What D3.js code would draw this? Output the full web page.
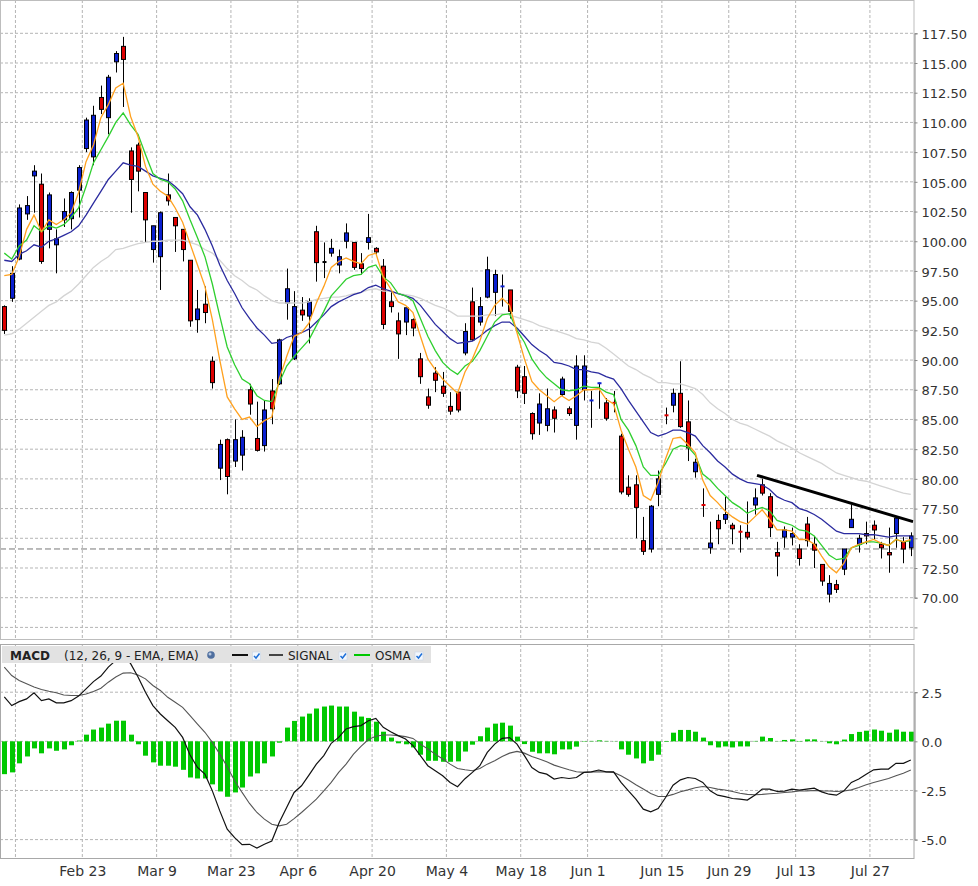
<!DOCTYPE html>
<html>
<head>
<meta charset="utf-8">
<script src="https://d3js.org/d3.v7.min.js"></script>
<style>
  body { margin: 0; background: #fff; }
  svg text { font-family: "DejaVu Sans", Verdana, sans-serif; }
</style>
</head>
<body>
<div class="container"></div>
<script>
// daily candles (index 0 = first visible day)
const opens = [
  94.5, 95.2, 98.5, 102.3, 105.5, 104.8, 101.0, 99.7, 101.8, 101.9,
  104.3, 107.8, 107.1, 112.1, 110.4, 115.1, 116.4, 107.6, 108.1, 104.1,
  99.3, 98.7, 103.9, 102.0, 101.0, 98.4, 93.4, 94.7, 89.9, 80.9,
  83.3, 81.5, 82.0, 87.5, 83.4, 82.8, 87.4, 88.0, 94.8, 90.1,
  94.2, 93.7, 100.8, 98.25, 99.0, 98.0, 100.0, 99.9, 98.1, 99.9,
  99.4, 97.9, 94.9, 93.3, 93.2, 93.4, 90.1, 86.9, 88.9, 87.8,
  86.1, 87.3, 90.6, 94.9, 93.2, 95.3, 95.7, 96.1, 95.9, 89.4,
  88.6, 85.5, 84.7, 84.5, 85.8, 87.1, 85.9, 84.5, 87.5, 86.5,
  87.95, 86.4, 86.4, 83.6, 79.3, 79.5, 74.8, 74.1, 78.7, 85.35,
  86.2, 87.2, 84.8, 80.6, 77.8, 74.2, 76.5, 76.6, 76.1, 75.55,
  75.5, 77.8, 79.5, 78.5, 73.8, 75.1, 75.1, 74.1, 76.2, 74.5,
  72.8, 70.3, 71.1, 72.4, 75.9, 74.5, 75.4, 76.1, 74.5, 73.8,
  75.4, 74.7, 74.2
];
const highs = [
  94.6, 97.9, 103.1, 103.8, 106.4, 105.7, 104.1, 101.0, 103.6, 104.2,
  106.4, 110.4, 111.4, 113.1, 114.0, 116.0, 117.2, 107.9, 108.3, 104.1,
  101.3, 102.5, 105.7, 102.0, 101.0, 98.4, 95.9, 96.2, 90.3, 83.3,
  83.4, 85.0, 84.1, 88.0, 86.5, 86.6, 88.4, 91.8, 97.7, 95.8,
  95.3, 95.2, 101.3, 99.9, 100.2, 99.3, 101.5, 99.9, 99.0, 102.3,
  99.5, 98.5, 95.7, 94.0, 94.4, 93.5, 90.6, 87.6, 89.4, 89.0,
  87.3, 87.3, 93.1, 96.1, 95.3, 98.7, 97.6, 97.2, 95.9, 89.6,
  89.5, 85.6, 87.2, 87.6, 86.1, 88.6, 86.1, 90.4, 90.4, 87.4,
  88.1, 86.8, 87.4, 83.8, 80.3, 80.3, 76.8, 77.8, 80.7, 86.0,
  87.6, 89.9, 86.6, 81.7, 79.2, 76.4, 77.0, 78.5, 76.3, 76.1,
  78.1, 79.2, 80.0, 78.8, 74.7, 76.0, 75.9, 74.5, 76.8, 75.2,
  72.8, 71.9, 71.5, 74.1, 77.8, 75.3, 76.4, 76.5, 74.7, 75.9,
  76.8, 75.1, 75.5
];
const lows = [
  92.2, 94.9, 98.4, 101.8, 102.4, 98.1, 99.4, 97.3, 101.2, 101.0,
  102.0, 107.5, 106.4, 110.7, 109.0, 114.2, 111.3, 102.4, 104.2, 99.9,
  98.2, 95.9, 103.0, 99.1, 98.3, 92.8, 92.3, 93.1, 87.6, 79.9,
  78.7, 81.0, 80.7, 85.4, 82.3, 82.3, 84.6, 87.9, 93.4, 90.0,
  93.3, 91.4, 96.6, 96.9, 98.7, 97.3, 99.4, 97.6, 97.2, 99.3,
  98.9, 92.6, 94.0, 90.1, 92.1, 92.0, 88.0, 85.9, 87.3, 86.9,
  85.4, 85.6, 90.4, 91.6, 92.9, 95.2, 93.7, 94.5, 93.5, 86.8,
  86.3, 83.3, 83.7, 84.0, 83.9, 87.0, 85.3, 83.3, 86.6, 84.3,
  85.9, 84.9, 85.6, 78.7, 78.5, 75.0, 73.6, 73.8, 77.7, 84.6,
  85.6, 84.3, 81.5, 80.1, 76.8, 73.7, 74.5, 76.2, 74.5, 73.8,
  74.9, 77.0, 78.6, 75.1, 71.8, 74.2, 74.4, 72.7, 74.3, 72.5,
  71.0, 69.6, 70.4, 71.9, 75.9, 73.8, 74.5, 74.9, 73.3, 72.1,
  74.2, 72.9, 73.5
];
const closes = [
  92.5, 97.3, 102.8, 103.0, 105.9, 98.3, 103.9, 100.2, 102.5, 104.1,
  106.2, 110.2, 110.6, 111.1, 113.8, 115.8, 115.3, 105.2, 105.9, 101.8,
  101.3, 102.4, 103.4, 101.3, 99.3, 93.3, 94.3, 94.0, 88.1, 82.9,
  80.2, 83.3, 83.5, 86.3, 82.4, 85.8, 85.9, 91.7, 96.0, 94.5,
  93.8, 94.9, 98.2, 98.25, 99.4, 98.7, 100.7, 97.8, 97.7, 100.3,
  99.1, 93.0, 94.5, 92.2, 94.4, 92.7, 88.6, 86.2, 88.3, 87.2,
  85.7, 85.8, 92.4, 91.7, 94.5, 97.6, 97.2, 96.2, 94.1, 87.4,
  87.2, 83.8, 86.3, 85.9, 85.1, 88.4, 85.5, 89.5, 89.5, 86.6,
  88.05, 85.1, 86.3, 78.9, 78.7, 77.6, 73.9, 77.7, 80.0, 85.25,
  87.2, 84.4, 82.6, 81.4, 77.7, 74.6, 75.8, 77.0, 75.8, 75.45,
  75.1, 78.4, 78.8, 75.9, 73.5, 75.7, 75.4, 73.3, 74.8, 74.0,
  71.4, 71.2, 70.7, 74.1, 76.6, 75.0, 75.2, 75.7, 74.2, 73.6,
  76.7, 74.1, 75.2
];

// moving averages on the price pane
const emaFast = [ // orange
  97.1, 97.2, 98.7, 101.0, 102.2, 100.8, 101.8, 101.4, 101.8, 102.4,
  104.1, 106.7, 108.1, 110.4, 111.5, 112.9, 113.3, 110.5, 108.8, 106.3,
  104.8, 104.2, 103.8, 102.8, 101.6, 99.8, 98.0, 96.2, 93.4, 90.0,
  86.9, 85.9, 85.0, 85.2, 84.4, 84.9, 85.2, 88.4, 90.3, 92.0,
  92.3, 93.1, 94.8, 96.2, 97.8, 98.3, 98.6, 98.3, 98.1, 98.8,
  99.0, 97.0, 96.0, 94.9, 94.6, 94.0, 92.0, 90.1, 89.2, 88.4,
  87.8, 87.2, 89.0, 90.1, 91.6, 93.5, 94.6, 95.2, 94.6, 92.3,
  90.1, 88.2, 87.5, 87.0, 86.5, 87.0, 86.6, 87.0, 87.5, 87.5,
  87.6, 86.7, 86.3, 84.1, 82.5, 81.0, 78.6, 78.2, 79.7, 81.7,
  83.4, 83.5, 82.9, 82.2, 79.9, 78.6, 78.0, 77.3, 76.8, 76.4,
  76.2, 76.8, 77.4, 76.6, 75.7, 75.7, 75.6, 74.9, 74.9, 74.5,
  73.5, 72.6, 72.1, 72.9, 74.2, 74.5, 74.7, 74.9, 74.6, 74.4,
  74.9, 74.7, 74.9
];
const emaMid = [ // green
  99.0, 98.5, 99.6, 100.1, 101.3, 100.8, 101.3, 101.1, 101.4, 102.0,
  102.8, 104.6, 106.6, 107.7, 108.8, 110.0, 110.8, 109.8, 109.0, 107.3,
  105.7, 105.2, 105.0, 104.4, 103.4, 101.8, 100.3, 98.7, 96.4, 93.7,
  91.1, 89.6, 88.4, 88.0, 87.0, 86.6, 86.5, 88.1, 89.5, 90.3,
  91.0, 91.7, 92.9, 94.1, 95.4, 96.1, 96.8, 97.1, 97.2, 97.8,
  98.0, 97.0, 96.5, 95.6, 95.4, 95.0, 93.5, 92.0, 90.8, 89.8,
  89.2, 88.8, 89.5, 89.9, 90.8, 92.0, 93.2, 93.8, 93.9, 92.5,
  91.5, 90.1, 89.2, 88.5, 88.0, 87.5, 87.4, 87.5, 87.8, 87.7,
  87.7, 87.3, 87.1, 85.0, 84.1, 82.8, 81.0, 80.3, 80.3, 81.3,
  82.5, 82.8, 82.7, 82.0, 80.4, 79.9, 79.2, 78.6, 78.0, 77.6,
  77.1, 77.4, 77.6, 77.3, 76.5, 76.3, 76.1, 75.7, 75.6, 75.2,
  74.4, 73.6, 73.2, 73.3, 74.2, 74.4, 74.7, 74.7, 74.6, 74.4,
  74.9, 74.7, 74.8
];
const emaSlow = [ // navy
  98.4, 98.3, 98.9, 99.2, 99.7, 99.5, 100.0, 100.2, 100.5, 100.8,
  101.3, 102.2, 103.2, 104.2, 105.2, 105.9, 106.6, 106.4, 106.3, 105.9,
  105.5, 105.3, 105.1, 104.6, 104.0, 102.9, 102.2, 101.0, 99.6, 98.0,
  96.7, 95.6, 94.4, 93.5, 92.7, 92.1, 91.4, 91.5, 91.9, 92.1,
  92.3, 92.6, 93.2, 93.8, 94.5, 94.9, 95.2, 95.5, 95.7, 96.1,
  96.3, 96.0, 95.8, 95.6, 95.4, 95.2, 94.6, 93.8, 93.0, 92.4,
  91.8, 91.4, 91.5, 91.6, 92.0, 92.5, 92.9, 93.2, 93.2, 92.7,
  92.0, 91.3, 90.8, 90.4, 89.8, 89.7, 89.5, 89.2, 89.2, 89.0,
  88.9, 88.6, 88.4, 87.6, 86.6, 85.7, 84.8, 83.9, 83.6, 83.8,
  84.1, 84.1, 83.9, 83.6, 82.8, 82.2, 81.5, 81.0, 80.4, 80.0,
  79.7, 79.6, 79.5, 79.1, 78.5, 78.2, 78.0, 77.5, 77.3, 77.0,
  76.6, 76.1, 75.6, 75.4, 75.4, 75.4, 75.3, 75.3, 75.2, 75.1,
  75.2, 75.2, 75.2
];
const smaLong = [ // light grey
  92.1, 92.2, 92.6, 93.1, 93.6, 94.1, 94.6, 94.9, 95.4, 95.8,
  96.4, 97.1, 97.8, 98.3, 98.7, 99.3, 99.4, 99.6, 99.8, 99.9,
  100.0, 100.0, 100.1, 100.1, 100.1, 99.9, 99.7, 99.3, 99.0, 98.4,
  97.7, 97.1, 96.7, 96.2, 95.9, 95.4, 95.0, 94.8, 94.8, 94.8,
  94.8, 94.9, 95.1, 95.2, 95.3, 95.3, 95.4, 95.6, 95.7, 95.9,
  96.0, 95.8, 95.8, 95.6, 95.5, 95.4, 95.2, 94.9, 94.6, 94.4,
  94.1, 93.7, 93.7, 93.7, 93.7, 93.8, 93.8, 93.9, 93.8, 93.6,
  93.4, 93.2, 92.9, 92.7, 92.5, 92.3, 92.1, 91.8, 91.7, 91.5,
  91.4, 91.0, 90.5, 90.0, 89.5, 89.2, 88.8, 88.5, 88.1, 88.1,
  88.0, 88.0, 87.8, 87.6, 87.1, 86.4, 85.9, 85.5, 85.0, 84.7,
  84.5, 84.2, 83.9, 83.6, 83.2, 82.9, 82.6, 82.2, 81.9, 81.6,
  81.3, 80.9, 80.5, 80.3, 80.1, 79.9, 79.8, 79.6, 79.4, 79.2,
  79.0, 78.8, 78.7
];

// MACD pane
const macdLine = [
  2.26, 1.82, 2.02, 2.16, 2.47, 2.07, 2.16, 1.96, 1.96, 2.07,
  2.30, 2.67, 3.04, 3.32, 3.78, 4.12, 4.40, 3.95, 3.27, 2.50,
  1.82, 1.39, 1.05, 0.71, 0.20, -0.70, -1.33, -1.67, -2.52, -3.54,
  -4.47, -4.90, -5.26, -5.24, -5.43, -5.24, -5.07, -4.13, -3.37, -2.60,
  -2.26, -1.72, -1.16, -0.73, -0.10, 0.20, 0.63, 0.75, 0.80, 1.05,
  1.17, 0.71, 0.49, 0.29, 0.12, -0.22, -0.73, -1.24, -1.50, -1.75,
  -2.09, -2.31, -1.90, -1.58, -1.24, -0.56, -0.14, 0.15, 0.19, -0.14,
  -0.73, -1.33, -1.58, -1.67, -1.92, -1.84, -1.89, -1.84, -1.58, -1.55,
  -1.46, -1.55, -1.55, -2.09, -2.52, -2.94, -3.45, -3.59, -3.42, -2.86,
  -2.23, -1.96, -1.84, -1.89, -2.09, -2.52, -2.74, -2.81, -2.91, -2.94,
  -2.99, -2.74, -2.43, -2.43, -2.55, -2.53, -2.43, -2.48, -2.43, -2.38,
  -2.57, -2.69, -2.74, -2.52, -2.09, -1.92, -1.67, -1.45, -1.41, -1.41,
  -1.12, -1.12, -0.95
];
const signalLine = [
  3.78, 3.35, 3.10, 2.93, 2.76, 2.64, 2.55, 2.47, 2.36, 2.33,
  2.33, 2.41, 2.53, 2.70, 3.01, 3.27, 3.47, 3.49, 3.38, 3.18,
  2.84, 2.59, 2.24, 1.99, 1.73, 1.31, 0.88, 0.46, -0.05, -0.65,
  -1.29, -2.01, -2.60, -3.16, -3.62, -3.96, -4.22, -4.30, -4.22, -3.93,
  -3.62, -3.28, -2.94, -2.52, -2.09, -1.58, -1.16, -0.65, -0.26, 0.09,
  0.26, 0.32, 0.32, 0.29, 0.24, 0.15, -0.14, -0.39, -0.65, -0.90,
  -1.16, -1.38, -1.45, -1.50, -1.38, -1.16, -0.99, -0.77, -0.60, -0.51,
  -0.60, -0.77, -0.90, -1.04, -1.21, -1.33, -1.45, -1.55, -1.58, -1.56,
  -1.55, -1.56, -1.58, -1.75, -1.97, -2.21, -2.43, -2.65, -2.81, -2.81,
  -2.70, -2.57, -2.47, -2.36, -2.30, -2.35, -2.43, -2.48, -2.55, -2.64,
  -2.70, -2.72, -2.70, -2.67, -2.64, -2.60, -2.57, -2.53, -2.52, -2.50,
  -2.52, -2.53, -2.55, -2.53, -2.47, -2.35, -2.21, -2.09, -1.99, -1.89,
  -1.75, -1.62, -1.46
];
const osma = [
  -1.67, -1.58, -1.12, -0.77, -0.36, -0.61, -0.36, -0.48, -0.41, -0.20,
  0.04, 0.34, 0.60, 0.70, 0.90, 1.05, 1.05, 0.34, -0.15, -0.73,
  -1.07, -1.24, -1.24, -1.29, -1.45, -1.84, -1.89, -1.89, -2.19, -2.55,
  -2.82, -2.60, -2.35, -1.79, -1.63, -1.12, -0.77, -0.07, 0.70, 1.04,
  1.26, 1.41, 1.67, 1.77, 1.82, 1.77, 1.77, 1.51, 1.26, 1.19,
  1.00, 0.49, 0.19, -0.10, -0.15, -0.31, -0.68, -0.99, -0.99, -1.04,
  -1.04, -1.02, -0.52, -0.17, 0.26, 0.70, 0.90, 0.95, 0.80, 0.24,
  -0.14, -0.53, -0.61, -0.61, -0.66, -0.41, -0.41, -0.27, -0.02, 0.02,
  0.05, 0.02, 0.01, -0.41, -0.68, -0.87, -1.12, -0.99, -0.68, -0.03,
  0.44, 0.58, 0.58, 0.49, 0.19, -0.20, -0.31, -0.26, -0.31, -0.26,
  -0.26, 0.02, 0.24, 0.17, 0.01, 0.07, 0.10, -0.02, 0.10, 0.10,
  0.01, -0.10, -0.15, 0.09, 0.37, 0.48, 0.54, 0.60, 0.54, 0.44,
  0.60, 0.49, 0.49
];

// axis ticks
const dateTicks = [2, 11, 21, 31, 40, 50, 60, 70, 79, 89, 98, 107, 117];
const dateLabels = ['', 'Feb 23', 'Mar 9', 'Mar 23', 'Apr 6', 'Apr 20', 'May 4',
  'May 18', 'Jun 1', 'Jun 15', 'Jun 29', 'Jul 13', 'Jul 27'];
const priceTicks = [67.5, 70, 72.5, 75, 77.5, 80, 82.5, 85, 87.5, 90, 92.5, 95, 97.5,
  100, 102.5, 105, 107.5, 110, 112.5, 115, 117.5];
const macdTicks = [-5, -2.5, 0, 2.5];

// hand drawn resistance line (day index, price) and last price marker
const trendIdx = [101.3, 122.3];
const trendVal = [80.3, 76.4];
const lastPrice = 74.1;

// defining dimensions
const w = 978;
const h = 886;
const plotRight = 914;
const mainPane = { top: 0, bottom: 639 };
const macdPane = { top: 644, bottom: 858 };

const svg = d3.select('.container').append('svg')
  .attr('width', w)
  .attr('height', h);

// scales
const xScale = d3.scaleLinear().domain([0, 122]).range([4.3, 910.8]);
const yScale = d3.scaleLinear().domain([70, 117.5]).range([597.7, 33.3]);
const mScale = d3.scaleLinear().domain([-5, 2.5]).range([839.6, 692.2]);
const gridX = dateTicks.map(t => xScale(t - 0.5));

// clip areas for both panes
const defs = svg.append('defs');
defs.append('clipPath').attr('id', 'clip-main').append('rect')
  .attr('x', 0).attr('y', mainPane.top)
  .attr('width', plotRight).attr('height', mainPane.bottom - mainPane.top);
defs.append('clipPath').attr('id', 'clip-macd').append('rect')
  .attr('x', 0).attr('y', macdPane.top)
  .attr('width', plotRight).attr('height', macdPane.bottom - macdPane.top);

const gridColor = '#b5b5b5';

// ---------- price pane ----------
const main = svg.append('g').attr('clip-path', 'url(#clip-main)');
main.selectAll('.hgrid').data(priceTicks).enter().append('line')
  .attr('x1', 0).attr('x2', plotRight)
  .attr('y1', d => yScale(d)).attr('y2', d => yScale(d))
  .attr('stroke', gridColor).attr('stroke-dasharray', '3,2');
main.selectAll('.vgrid').data(gridX).enter().append('line')
  .attr('x1', d => d).attr('x2', d => d)
  .attr('y1', mainPane.top).attr('y2', mainPane.bottom)
  .attr('stroke', gridColor).attr('stroke-dasharray', '3,2');

// last price dashed line
main.append('line')
  .attr('x1', 0).attr('x2', plotRight)
  .attr('y1', yScale(lastPrice)).attr('y2', yScale(lastPrice))
  .attr('stroke', '#777').attr('stroke-dasharray', '6,3');

// candles
const candles = main.selectAll('.candle').data(opens).enter().append('g');
candles.append('line')
  .attr('x1', (d, i) => Math.round(xScale(i)) + 0.5)
  .attr('x2', (d, i) => Math.round(xScale(i)) + 0.5)
  .attr('y1', (d, i) => yScale(highs[i]))
  .attr('y2', (d, i) => yScale(lows[i]))
  .attr('stroke', '#000').attr('stroke-width', 1);
candles.append('rect')
  .attr('x', (d, i) => Math.round(xScale(i)) - 1.5)
  .attr('y', (d, i) => {
    const top = yScale(Math.max(d, closes[i]));
    return Math.abs(d - closes[i]) < 0.15 ? top - 1 : top;
  })
  .attr('width', 4)
  .attr('height', (d, i) => Math.abs(d - closes[i]) < 0.15 ? 2 : yScale(Math.min(d, closes[i])) - yScale(Math.max(d, closes[i])))
  .attr('fill', (d, i) => closes[i] > d ? '#0a1fd0' : (closes[i] < d ? '#dd0000' : '#000'))
  .attr('stroke', (d, i) => Math.abs(d - closes[i]) < 0.15 ? 'none' : '#000')
  .attr('stroke-width', 1);

// moving averages
const priceLine = d3.line().x((d, i) => xScale(i)).y(d => yScale(d));
[[smaLong, '#d4d4d4'], [emaSlow, '#2b2b9f'], [emaMid, '#2fcf2f'], [emaFast, '#ffa11f']]
  .forEach(([series, color]) => {
    main.append('path')
      .attr('d', priceLine(series))
      .attr('fill', 'none')
      .attr('stroke', color)
      .attr('stroke-width', 1.3);
  });

// trend line
main.append('line')
  .attr('x1', xScale(trendIdx[0])).attr('y1', yScale(trendVal[0]))
  .attr('x2', xScale(trendIdx[1])).attr('y2', yScale(trendVal[1]))
  .attr('stroke', '#000').attr('stroke-width', 3);

// pane border and right axis
svg.append('rect')
  .attr('x', 0.5).attr('y', mainPane.top + 0.5)
  .attr('width', plotRight - 0.5).attr('height', mainPane.bottom - mainPane.top)
  .attr('fill', 'none').attr('stroke', '#bdbdbd');
const yAxis = d3.axisRight(yScale)
  .tickValues(priceTicks)
  .tickSize(3)
  .tickPadding(4)
  .tickFormat(d => d >= 70 ? d.toFixed(2) : '');
svg.append('g')
  .attr('transform', 'translate(' + (plotRight + 0.5) + ', 0)')
  .attr('id', 'y-axis')
  .call(yAxis);

// ---------- MACD pane ----------
const lower = svg.append('g').attr('clip-path', 'url(#clip-macd)');
lower.selectAll('.mgrid').data(macdTicks).enter().append('line')
  .attr('x1', 0).attr('x2', plotRight)
  .attr('y1', d => mScale(d)).attr('y2', d => mScale(d))
  .attr('stroke', gridColor).attr('stroke-dasharray', '3,2');
lower.selectAll('.mvgrid').data(gridX).enter().append('line')
  .attr('x1', d => d).attr('x2', d => d)
  .attr('y1', macdPane.top).attr('y2', macdPane.bottom)
  .attr('stroke', gridColor).attr('stroke-dasharray', '3,2');

// OSMA histogram
lower.selectAll('.bar').data(osma).enter().append('rect')
  .attr('x', (d, i) => Math.round(xScale(i)) - 2)
  .attr('y', d => mScale(Math.max(0, d)))
  .attr('width', 5)
  .attr('height', d => Math.abs(mScale(d) - mScale(0)))
  .attr('fill', '#00c800');

const macdPath = d3.line().x((d, i) => xScale(i)).y(d => mScale(d));
lower.append('path')
  .attr('d', macdPath(signalLine))
  .attr('fill', 'none').attr('stroke', '#555').attr('stroke-width', 1.1);
lower.append('path')
  .attr('d', macdPath(macdLine))
  .attr('fill', 'none').attr('stroke', '#111').attr('stroke-width', 1.2);

svg.append('rect')
  .attr('x', 0.5).attr('y', macdPane.top + 0.5)
  .attr('width', plotRight - 0.5).attr('height', macdPane.bottom - macdPane.top)
  .attr('fill', 'none').attr('stroke', '#a8a8a8');
const mAxis = d3.axisRight(mScale)
  .tickValues(macdTicks)
  .tickSize(3)
  .tickPadding(4)
  .tickFormat(d => d.toFixed(1));
svg.append('g')
  .attr('transform', 'translate(' + (plotRight + 0.5) + ', 0)')
  .attr('id', 'macd-axis')
  .call(mAxis);

// date axis under the MACD pane
const xAxis = d3.axisBottom(xScale)
  .tickValues(dateTicks.map(t => t - 0.5))
  .tickSize(0)
  .tickPadding(8.5)
  .tickFormat((d, i) => dateLabels[i]);
svg.append('g')
  .attr('transform', 'translate(0, ' + macdPane.bottom + ')')
  .attr('id', 'x-axis')
  .call(xAxis);

// axis styling
svg.selectAll('#y-axis .domain, #macd-axis .domain').attr('stroke', '#888');
svg.selectAll('#x-axis .domain').remove();
svg.selectAll('#y-axis line, #macd-axis line').attr('stroke', '#888');
svg.selectAll('#y-axis text, #macd-axis text')
  .attr('font-size', 13).attr('fill', '#333').attr('dy', '0.4em');
svg.selectAll('#x-axis text')
  .attr('font-size', 14).attr('fill', '#333');

// ---------- legend ----------
const legend = svg.append('g');
legend.append('rect')
  .attr('x', 2).attr('y', 646)
  .attr('width', 429).attr('height', 17)
  .attr('fill', '#e2e2e2');
legend.append('text')
  .attr('x', 10).attr('y', 659.5)
  .attr('font-size', 12).attr('font-weight', 'bold').attr('fill', '#222')
  .text('MACD');
legend.append('text')
  .attr('x', 64).attr('y', 659.5)
  .attr('font-size', 12).attr('fill', '#222')
  .text('(12, 26, 9 - EMA, EMA)');
legend.append('circle')
  .attr('cx', 211).attr('cy', 655).attr('r', 3.8)
  .attr('fill', '#4f6f9f');
legend.append('circle')
  .attr('cx', 210).attr('cy', 654).attr('r', 1.5)
  .attr('fill', '#b8c8e0');

const legendItems = [
  { x1: 232, x2: 248, color: '#111', label: '', check: 256.5 },
  { x1: 269, x2: 283, color: '#444', label: 'SIGNAL', check: 343 },
  { x1: 354, x2: 370, color: '#00c800', label: 'OSMA', check: 419 }
];
legendItems.forEach(item => {
  legend.append('line')
    .attr('x1', item.x1).attr('x2', item.x2)
    .attr('y1', 655).attr('y2', 655)
    .attr('stroke', item.color).attr('stroke-width', 2);
  if (item.label) {
    legend.append('text')
      .attr('x', item.x2 + 5).attr('y', 659.5)
      .attr('font-size', 12).attr('fill', '#222')
      .text(item.label);
  }
  legend.append('rect')
    .attr('x', item.check - 4).attr('y', 652)
    .attr('width', 8).attr('height', 8)
    .attr('fill', '#f3f7fd').attr('stroke', '#c9d5e6').attr('stroke-width', 0.6);
  legend.append('path')
    .attr('d', 'M' + (item.check - 2.5) + ',656 l2,2 l3.5,-4.5')
    .attr('fill', 'none').attr('stroke', '#1d6fd8').attr('stroke-width', 1.5);
});
</script>
</body>
</html>
